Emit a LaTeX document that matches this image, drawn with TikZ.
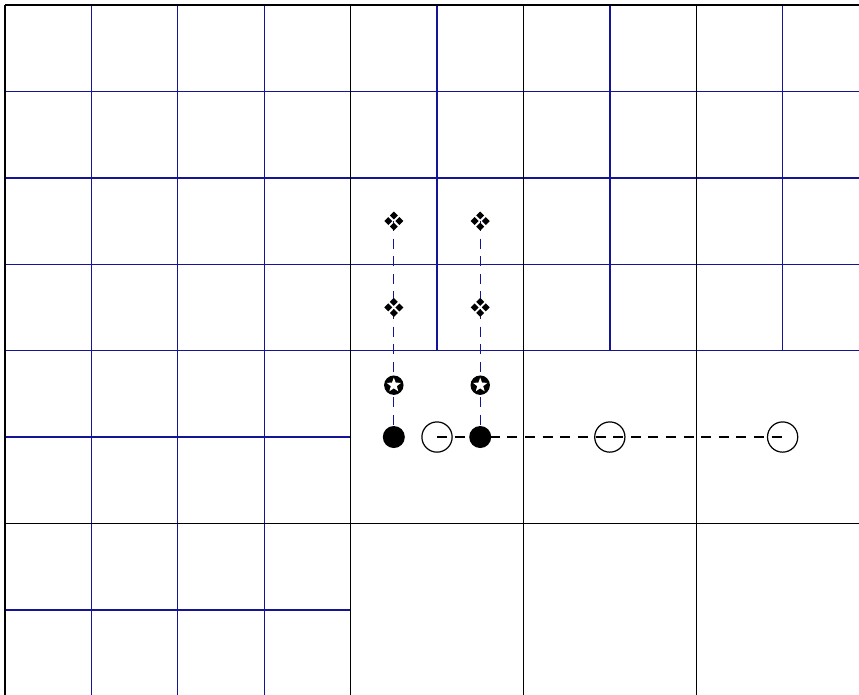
\documentclass[tikz,border=0pt]{standalone}
\usetikzlibrary{shapes.geometric}
\definecolor{gridblue}{RGB}{20,20,150}
\begin{document}
\begin{tikzpicture}[
  coarse/.style={black, line width=0.45pt},
  fine/.style={gridblue, line width=0.45pt},
  conn/.style={dash pattern=on 3.3pt off 2.5pt, line width=0.4pt},
  blackdot/.style={circle, fill=black, inner sep=0pt, minimum size=0.255cm},
  opendot/.style={circle, draw=black, line width=0.4pt, inner sep=0pt, minimum size=0.35cm},
  stardisc/.style={circle, fill=black, inner sep=0pt, minimum size=0.225cm},
  whitestar/.style={star, star points=5, star point ratio=2.4, fill=white, inner sep=0pt, minimum size=0.175cm},
  quaddiamond/.pic={
    \foreach \a in {0,90,180,270}
      \fill[black] (\a:0.064) ++(-0.046,0) -- ++(0.046,0.046) -- ++(0.046,-0.046) -- ++(-0.046,-0.046) -- cycle;
  },
]
\useasboundingbox (-0.058,0.058) rectangle (9.884,-7.975);

% fine (blue) grid
\foreach \x in {1,2,3} \draw[fine] (\x,0) -- (\x,-8.1);
\foreach \x in {5,7,9} \draw[fine] (\x,0) -- (\x,-4);
\foreach \y in {1,2,3,4} \draw[fine] (0,-\y) -- (10,-\y);
\foreach \y in {5,7} \draw[fine] (0,-\y) -- (4,-\y);

% coarse (black) grid
\foreach \x in {0,4,6,8} \draw[coarse] (\x,0) -- (\x,-8.1);
\draw[coarse] (0,0) -- (10,0);
\draw[coarse] (0,-6) -- (10,-6);

% marker positions
\coordinate (qA1) at (4.5,-2.5);
\coordinate (qA2) at (4.5,-3.5);
\coordinate (qB1) at (5.5,-2.5);
\coordinate (qB2) at (5.5,-3.5);

% vertical blue dashed connectors
\draw[conn, gridblue] (qA1) -- (4.5,-5) coordinate (bAc);
\draw[conn, gridblue] (qB1) -- (5.5,-5) coordinate (bBc);

% markers
\pic at (qA1) {quaddiamond};
\pic at (qA2) {quaddiamond};
\pic at (qB1) {quaddiamond};
\pic at (qB2) {quaddiamond};

\node[stardisc] (sA) at (4.5,-4.4) {};
\node[whitestar] (sAs) at (sA) {};
\node[stardisc] (sB) at (5.5,-4.4) {};
\node[whitestar] (sBs) at (sB) {};

\node[blackdot] (bA) at (bAc) {};
\node[blackdot] (bB) at (bBc) {};

\node[opendot] (o1) at (5,-5) {};
\node[opendot] (o2) at (7,-5) {};
\node[opendot] (o3) at (9,-5) {};

% horizontal black dashed connector
\draw[conn] (o1.center) -- (o2.center) -- (o3.center);
\end{tikzpicture}
\end{document}
